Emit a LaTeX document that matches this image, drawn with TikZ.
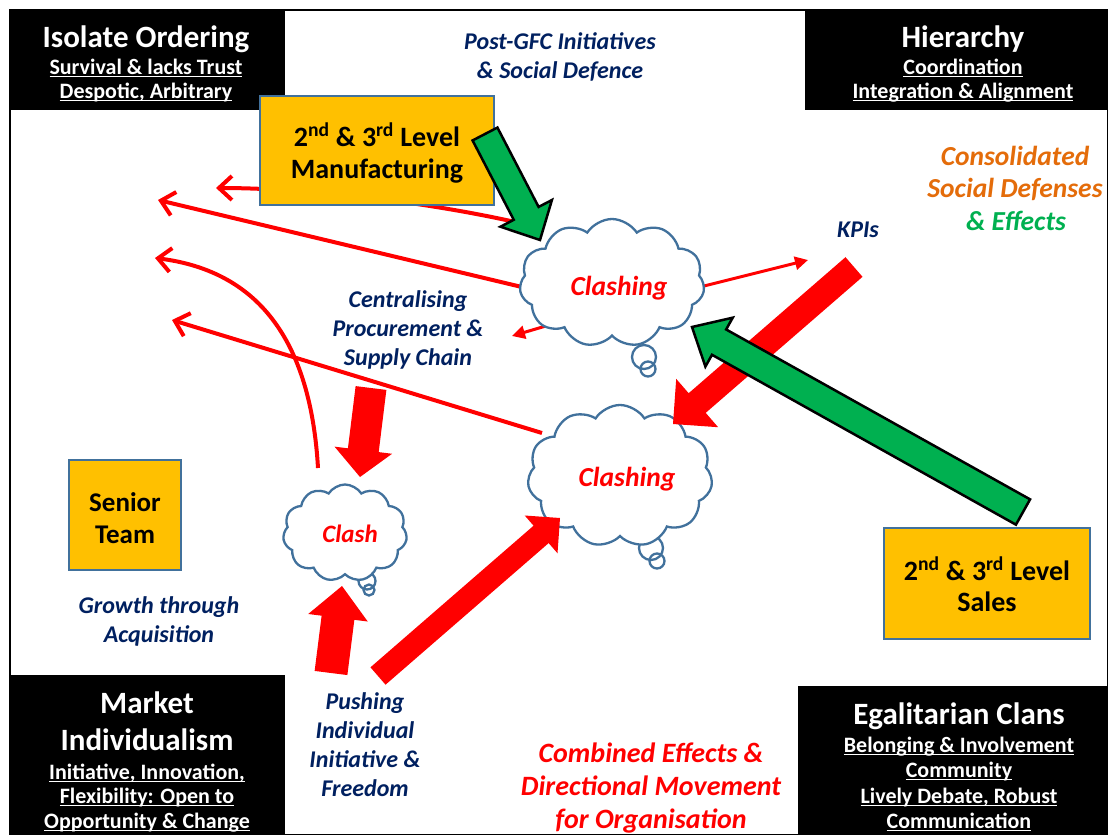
\documentclass[tikz,border=0pt]{standalone}
\usepackage{fontspec}
\setmainfont{Carlito}
\usetikzlibrary{shapes.symbols,arrows.meta,calc}

\definecolor{boxyellow}{HTML}{FFC000}
\definecolor{boxedge}{HTML}{41719C}
\definecolor{cloudedge}{HTML}{41719C}
\definecolor{navy}{HTML}{002060}
\definecolor{orangetext}{HTML}{E46C0A}
\definecolor{arrgreen}{HTML}{00B050}

\newcommand\fsz[2]{\fontsize{#1}{#2}\selectfont}
\newsavebox\ulbox
\newcommand\ulined[1]{\sbox\ulbox{#1}\rlap{\rule[-3.4pt]{\wd\ulbox}{1.7pt}}\usebox\ulbox}

% block arrow: style, tail, tip, shaft half width, head half width, head length
\newcommand\blockarrow[6]{%
  \coordinate (#3-hb) at ($(#3)!#6!(#2)$);
  \path[#1] ($(#2)!#4!90:(#3)$) -- ($(#3-hb)!#4!90:(#3)$) -- ($(#3-hb)!#5!90:(#3)$)
    -- (#3) -- ($(#3-hb)!#5!-90:(#3)$) -- ($(#3-hb)!#4!-90:(#3)$) -- ($(#2)!#4!-90:(#3)$) -- cycle;}

\tikzset{
  every node/.style={inner sep=0pt, outer sep=0pt},
  band/.style={fill=black, draw=none, anchor=north west},
  bandtitle/.style={text=white, font=\bfseries\fsz{31}{36}, anchor=base},
  bandsub/.style={text=white, font=\bfseries\fsz{22}{26}, anchor=base},
  ybox/.style={fill=boxyellow, draw=boxedge, line width=2pt, anchor=north west},
  ytext/.style={text=black, font=\bfseries\fsz{28}{33}, anchor=base},
  navytext/.style={text=navy, font=\bfseries\itshape\fsz{24}{28}, anchor=base},
  orangelbl/.style={text=orangetext, font=\bfseries\itshape\fsz{27.5}{32}, anchor=base},
  greenlbl/.style={text=arrgreen, font=\bfseries\itshape\fsz{27.5}{32}, anchor=base},
  redlbl/.style={text=red, font=\bfseries\itshape\fsz{28}{33}, anchor=base},
  cloudbox/.style={cloud, cloud puffs=11, cloud puff arc=115, draw=cloudedge, fill=white, line width=2.3pt},
  tailring/.style={circle, draw=cloudedge, line width=2.3pt},
  thinarrow/.style={draw=red, line width=4pt, -{Straight Barb[length=13pt,width=24pt,line width=4pt]}},
  shortarrow/.style={draw=red, line width=3pt, -{Triangle[length=13pt,width=13pt]}},
  redblock/.style={fill=red, draw=none},
  greenblock/.style={fill=arrgreen, draw=black, line width=2.5pt, line join=miter},
}

\begin{document}
\begin{tikzpicture}[x=1pt, y=-1pt]
\useasboundingbox (0,0) rectangle (1108,835);
\fill[white] (0,0) rectangle (1108,835);
\draw[black, line width=1.3pt] (10,10) rectangle (1108,835);

% corner bands
\node[band, minimum width=275pt, minimum height=100pt] (iso) at (10,10) {};
\node[bandtitle] (isoT) at (146,47) {Isolate Ordering};
\node[bandsub] (isoA) at (146,74) {\ulined{Survival \& lacks Trust}};
\node[bandsub] (isoB) at (146,98) {\ulined{Despotic, Arbitrary}};

\node[band, minimum width=303pt, minimum height=100pt] (hier) at (805,10) {};
\node[bandtitle] (hierT) at (963,47) {Hierarchy};
\node[bandsub] (hierA) at (963,74) {\ulined{Coordination}};
\node[bandsub] (hierB) at (963,98) {\ulined{Integration \& Alignment}};

\node[band, minimum width=275pt, minimum height=160pt] (mkt) at (10,675) {};
\node[bandtitle] (mktT) at (147,713) {Market};
\node[bandtitle] (mktU) at (147,750) {Individualism};
\node[bandsub] (mktA) at (147,779) {\ulined{Initiative, Innovation,}};
\node[bandsub] (mktB) at (147,803) {\ulined{Flexibility: Open to}};
\node[bandsub] (mktC) at (147,828) {\ulined{Opportunity \& Change}};

\node[band, minimum width=310pt, minimum height=149pt] (ega) at (798,686) {};
\node[bandtitle] (egaT) at (959,724) {Egalitarian Clans};
\node[bandsub] (egaA) at (959,752) {\ulined{Belonging \& Involvement}};
\node[bandsub] (egaB) at (959,777) {\ulined{Community}};
\node[bandsub] (egaC) at (959,803) {\ulined{Lively Debate, Robust}};
\node[bandsub] (egaD) at (959,828) {\ulined{Communication}};

% cloud anchors and free ends of the thin arrows
\coordinate (s1) at (524,224);  \coordinate (e1) at (216,188);
\coordinate (s2) at (526,288);  \coordinate (e2) at (158,200);
\coordinate (s3) at (318,468);  \coordinate (e3) at (155,258);
\coordinate (s4) at (542,433);  \coordinate (e4) at (172,320);
\coordinate (s5) at (556,323);  \coordinate (e5) at (512,336);
\coordinate (s6) at (700,287);  \coordinate (e6) at (808,260);

\draw[thinarrow] (s1) .. controls (420,200) and (300,188) .. (e1);
\draw[thinarrow] (s2) -- (e2);
\draw[thinarrow] (s3) .. controls (310,330) and (250,270) .. (e3);
\draw[thinarrow] (s4) -- (e4);
\draw[shortarrow] (s5) -- (e5);
\draw[shortarrow] (s6) -- (e6);

% yellow boxes
\node[ybox, minimum width=234pt, minimum height=109pt] (mfg) at (260,96) {};
\node[ytext] (mfgA) at (377,146) {2\textsuperscript{nd} \& 3\textsuperscript{rd} Level};
\node[ytext] (mfgB) at (377,178) {Manufacturing};

\node[ybox, minimum width=112pt, minimum height=110pt] (sen) at (69,460) {};
\node[ytext, font=\bfseries\fsz{27}{32}] (senA) at (125,511) {Senior};
\node[ytext, font=\bfseries\fsz{27}{32}] (senB) at (125,543) {Team};

\node[ybox, minimum width=206pt, minimum height=111pt] (sal) at (884,528) {};
\node[ytext] (salA) at (987,580) {2\textsuperscript{nd} \& 3\textsuperscript{rd} Level};
\node[ytext] (salB) at (987,611) {Sales};

% thought clouds
\node[tailring, minimum size=24pt] (c1ta) at (644,357) {};
\node[tailring, minimum size=15pt] (c1tb) at (648,369) {};
\node[cloudbox, minimum width=185pt, minimum height=128pt] (c1) at (612,283) {};
\node[redlbl, font=\bfseries\itshape\fsz{27.5}{32}] (c1L) at (619,295) {Clashing};

\node[tailring, minimum size=24pt] (c2ta) at (651,548) {};
\node[tailring, minimum size=15pt] (c2tb) at (657,561) {};
\node[cloudbox, minimum width=185pt, minimum height=142pt] (c2) at (620,476) {};
\node[redlbl, font=\bfseries\itshape\fsz{27.5}{32}] (c2L) at (627,486) {Clashing};

\node[tailring, minimum size=17pt] (c3ta) at (367,581) {};
\node[tailring, minimum size=11pt] (c3tb) at (369,590) {};
\node[cloudbox, minimum width=124pt, minimum height=97pt] (c3) at (345,533) {};
\node[redlbl, font=\bfseries\itshape\fsz{25}{30}] (c3L) at (350,542) {Clash};

% block arrows
\coordinate (rAt) at (371,388); \coordinate (rAh) at (360,477);
\coordinate (rBt) at (331,673); \coordinate (rBh) at (342,586);
\coordinate (rCt) at (378,676); \coordinate (rCh) at (560,518);
\coordinate (rDt) at (854,267); \coordinate (rDh) at (673,424);
\coordinate (gEt) at (485,134); \coordinate (gEh) at (540,240);
\coordinate (gFt) at (1023,512); \coordinate (gFh) at (692,327);
\blockarrow{redblock}{rAt}{rAh}{15.5pt}{29pt}{27pt}
\blockarrow{redblock}{rBt}{rBh}{16.5pt}{30pt}{32pt}
\blockarrow{redblock}{rCt}{rCh}{11.5pt}{25pt}{25pt}
\blockarrow{redblock}{rDt}{rDh}{13pt}{32pt}{32pt}
\blockarrow{greenblock}{gEt}{gEh}{14pt}{29pt}{30pt}
\blockarrow{greenblock}{gFt}{gFh}{14.5pt}{28pt}{31pt}

% labels
\node[navytext] (pg1) at (560,49) {Post-GFC Initiatives};
\node[navytext] (pg2) at (560,78) {\& Social Defence};
\node[navytext] (kpi) at (858,237) {KPIs};
\node[navytext] (cp1) at (408,307) {Centralising};
\node[navytext] (cp2) at (408,336) {Procurement \&};
\node[navytext] (cp3) at (408,365) {Supply Chain};
\node[navytext] (ga1) at (159,613) {Growth through};
\node[navytext] (ga2) at (159,642) {Acquisition};
\node[navytext] (pu1) at (365,709) {Pushing};
\node[navytext] (pu2) at (365,738) {Individual};
\node[navytext] (pu3) at (365,767) {Initiative \&};
\node[navytext] (pu4) at (365,796) {Freedom};

\node[orangelbl] (cs1) at (1015,165) {Consolidated};
\node[orangelbl] (cs2) at (1015,197) {Social Defenses};
\node[greenlbl] (cs3) at (1016,230) {\& Effects};

\node[redlbl] (ce1) at (651,762) {Combined Effects \&};
\node[redlbl] (ce2) at (651,795) {Directional Movement};
\node[redlbl] (ce3) at (651,828) {for Organisation};
\end{tikzpicture}
\end{document}
